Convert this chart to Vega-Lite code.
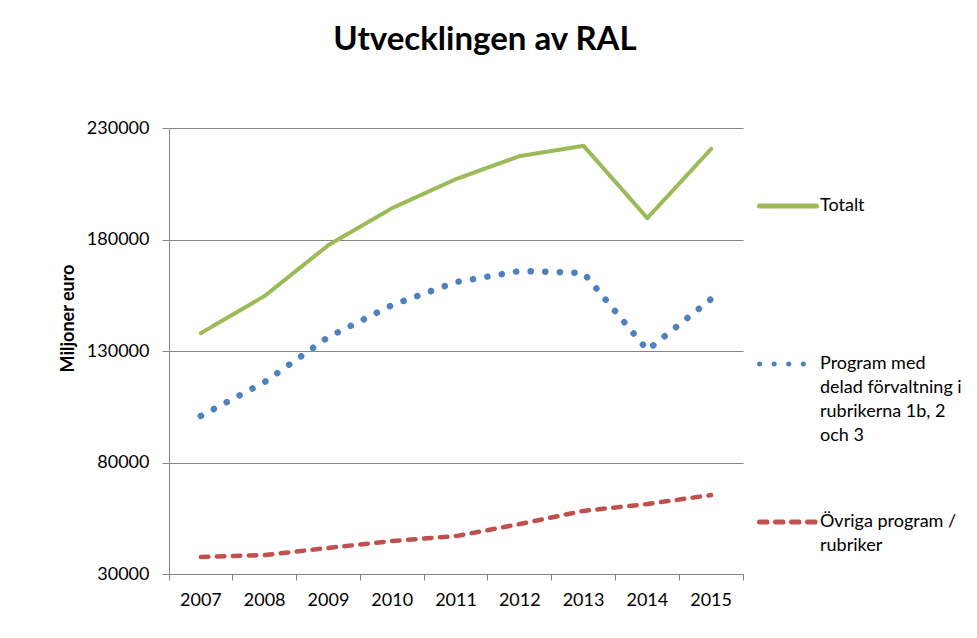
{
  "$schema": "https://vega.github.io/schema/vega-lite/v6.json",
  "width": 574,
  "height": 446,
  "autosize": {"type": "none"},
  "padding": {"left": 169, "top": 128, "right": 234, "bottom": 64},
  "background": "white",
  "title": {
    "text": "Utvecklingen av RAL",
    "font": "Lato",
    "fontSize": 33,
    "fontWeight": "bold",
    "color": "black",
    "anchor": "middle",
    "dx": 29,
    "offset": 62
  },
  "data": {
    "values": [
      {"year": "2007", "series": "Totalt", "value": 138000},
      {"year": "2008", "series": "Totalt", "value": 154700},
      {"year": "2009", "series": "Totalt", "value": 177500},
      {"year": "2010", "series": "Totalt", "value": 194100},
      {"year": "2011", "series": "Totalt", "value": 207100},
      {"year": "2012", "series": "Totalt", "value": 217400},
      {"year": "2013", "series": "Totalt", "value": 222000},
      {"year": "2014", "series": "Totalt", "value": 189600},
      {"year": "2015", "series": "Totalt", "value": 220600},
      {"year": "2007", "series": "Program med delad förvaltning i rubrikerna 1b, 2 och 3", "value": 100900},
      {"year": "2008", "series": "Program med delad förvaltning i rubrikerna 1b, 2 och 3", "value": 116100},
      {"year": "2009", "series": "Program med delad förvaltning i rubrikerna 1b, 2 och 3", "value": 136300},
      {"year": "2010", "series": "Program med delad förvaltning i rubrikerna 1b, 2 och 3", "value": 150600},
      {"year": "2011", "series": "Program med delad förvaltning i rubrikerna 1b, 2 och 3", "value": 160900},
      {"year": "2012", "series": "Program med delad förvaltning i rubrikerna 1b, 2 och 3", "value": 165900},
      {"year": "2013", "series": "Program med delad förvaltning i rubrikerna 1b, 2 och 3", "value": 165000},
      {"year": "2014", "series": "Program med delad förvaltning i rubrikerna 1b, 2 och 3", "value": 130400},
      {"year": "2015", "series": "Program med delad förvaltning i rubrikerna 1b, 2 och 3", "value": 153300},
      {"year": "2007", "series": "Övriga program / rubriker", "value": 37600},
      {"year": "2008", "series": "Övriga program / rubriker", "value": 38500},
      {"year": "2009", "series": "Övriga program / rubriker", "value": 41700},
      {"year": "2010", "series": "Övriga program / rubriker", "value": 44800},
      {"year": "2011", "series": "Övriga program / rubriker", "value": 47000},
      {"year": "2012", "series": "Övriga program / rubriker", "value": 52400},
      {"year": "2013", "series": "Övriga program / rubriker", "value": 58300},
      {"year": "2014", "series": "Övriga program / rubriker", "value": 61400},
      {"year": "2015", "series": "Övriga program / rubriker", "value": 65400}
    ]
  },
  "encoding": {
    "x": {
      "field": "year",
      "type": "ordinal",
      "bandPosition": 0.5,
      "scale": {"type": "band", "paddingInner": 0, "paddingOuter": 0},
      "axis": {
        "title": null,
        "labelAngle": 0,
        "bandPosition": 1,
        "tickExtra": true,
        "domainColor": "#868686",
        "tickColor": "#868686",
        "tickSize": 6,
        "labelFont": "Lato",
        "labelFontSize": 18,
        "labelColor": "black",
        "labelPadding": 11,
        "grid": false
      }
    },
    "y": {
      "field": "value",
      "type": "quantitative",
      "scale": {"domain": [30000, 230000], "nice": false, "zero": false},
      "axis": {
        "values": [30000, 80000, 130000, 180000, 230000],
        "format": "d",
        "title": "Miljoner euro",
        "titleFont": "Lato",
        "titleFontSize": 18,
        "titleFontWeight": "bold",
        "titleColor": "black",
        "titleX": -101,
        "titleY": 190,
        "titleAlign": "center",
        "titleBaseline": "middle",
        "domainColor": "#868686",
        "tickColor": "#868686",
        "gridColor": "#868686",
        "grid": true,
        "tickSize": 7,
        "labelFont": "Lato",
        "labelFontSize": 18,
        "labelColor": "black",
        "labelPadding": 13
      }
    },
    "color": {
      "field": "series",
      "type": "nominal",
      "scale": {
        "domain": ["Totalt", "Program med delad förvaltning i rubrikerna 1b, 2 och 3", "Övriga program / rubriker"],
        "range": ["#9BBB59", "#4F81BD", "#C0504D"]
      },
      "legend": {
        "title": null,
        "orient": "none",
        "legendX": 588,
        "legendY": 47,
        "symbolType": "stroke",
        "symbolSize": 3249,
        "symbolStrokeWidth": 5,
        "labelOffset": 1,
        "labelFont": "Lato",
        "labelFontSize": 18,
        "labelColor": "black",
        "labelLimit": 300,
        "rowPadding": 46,
        "labelExpr": "datum.label == 'Totalt' ? ['Totalt', '', '', ''] : datum.label == 'Övriga program / rubriker' ? ['Övriga program /', 'rubriker', '', ''] : ['Program med', 'delad förvaltning i', 'rubrikerna 1b, 2', 'och 3']",
        "encoding": {
          "symbols": {"strokeCap": {"value": "round"}}
        }
      }
    },
    "strokeDash": {
      "field": "series",
      "type": "nominal",
      "scale": {
        "domain": ["Totalt", "Program med delad förvaltning i rubrikerna 1b, 2 och 3", "Övriga program / rubriker"],
        "range": [[1, 0], [0.1, 14.5], [7.5, 8.5]]
      }
    }
  },
  "layer": [
    {
      "transform": [{"filter": "datum.series == 'Totalt'"}],
      "mark": {"type": "line", "strokeCap": "round", "strokeJoin": "round", "strokeWidth": 4}
    },
    {
      "transform": [{"filter": "datum.series == 'Program med delad förvaltning i rubrikerna 1b, 2 och 3'"}],
      "mark": {"type": "line", "strokeCap": "round", "strokeJoin": "round", "strokeWidth": 6.5}
    },
    {
      "transform": [{"filter": "datum.series == 'Övriga program / rubriker'"}],
      "mark": {"type": "line", "strokeCap": "round", "strokeJoin": "round", "strokeWidth": 4.5}
    }
  ],
  "config": {
    "view": {"stroke": null},
    "style": {"guide-label": {"lineHeight": 24}}
  }
}
